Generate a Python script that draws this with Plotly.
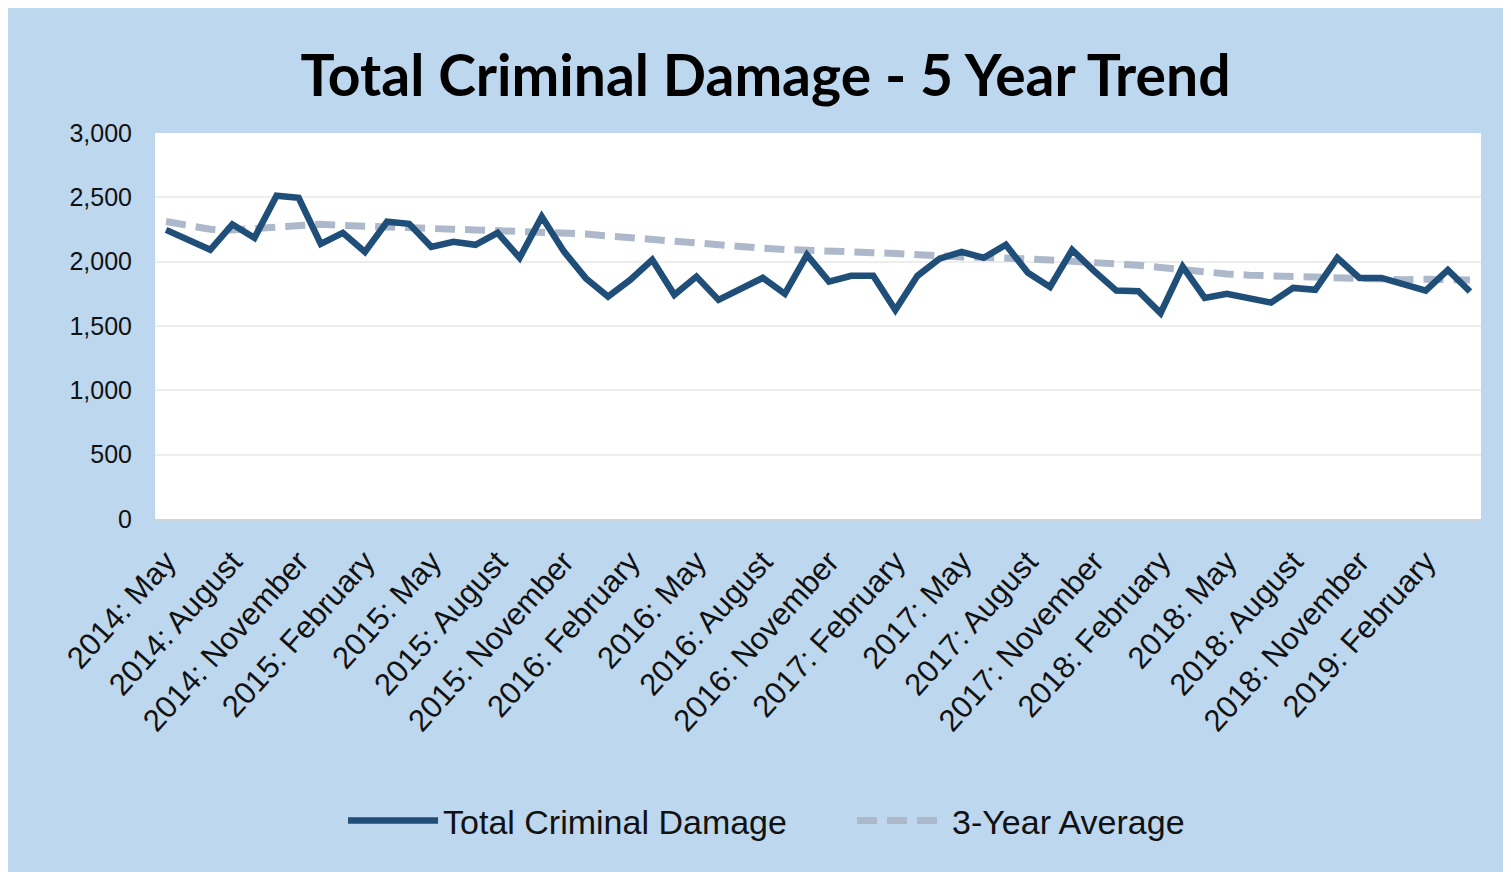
import plotly.graph_objects as go

years = [2014]*8 + [2015]*12 + [2016]*12 + [2017]*12 + [2018]*12 + [2019]*4
month_names = ["January", "February", "March", "April", "May", "June", "July",
               "August", "September", "October", "November", "December"]
start_month = 4  # May (index into month_names)
months = [month_names[(start_month + i) % 12] for i in range(60)]
categories = [f"{y}: {m}" for y, m in zip(years, months)]

total_damage = [2247, 2167, 2092, 2290, 2185, 2512, 2496, 2138, 2224, 2076,
                2310, 2294, 2115, 2154, 2131, 2224, 2030, 2350, 2080, 1870,
                1729, 1858, 2014, 1742, 1884, 1703, 1785, 1874, 1750, 2053,
                1845, 1890, 1890, 1625, 1890, 2024, 2076, 2030, 2131, 1913,
                1804, 2092, 1926, 1775, 1770, 1600, 1962, 1718, 1750, 1718,
                1682, 1796, 1781, 2030, 1874, 1874, 1820, 1775, 1936, 1768]

three_year_avg = [2312, 2278, 2252, 2247, 2260, 2278, 2291, 2291, 2281, 2273,
                  2268, 2262, 2257, 2252, 2247, 2242, 2234, 2229, 2221, 2215,
                  2200, 2185, 2172, 2160, 2145, 2123, 2113, 2105, 2095, 2092,
                  2085, 2077, 2070, 2063, 2050, 2042, 2036, 2034, 2034, 2022,
                  2013, 2005, 1993, 1985, 1972, 1955, 1936, 1920, 1905, 1895,
                  1890, 1882, 1870, 1862, 1858, 1858, 1860, 1864, 1864, 1858]

tick_labels = categories[::3]
y_ticks = [0, 500, 1000, 1500, 2000, 2500, 3000]

fig = go.Figure()
fig.add_trace(go.Scatter(
    x=categories, y=three_year_avg, mode="lines", name="3-Year Average",
    line=dict(color="#ADB9CA", width=7, dash="20px,10px"),
    legendrank=2,
))
fig.add_trace(go.Scatter(
    x=categories, y=total_damage, mode="lines", name="Total Criminal Damage",
    line=dict(color="#1F4E79", width=6.5),
    legendrank=1,
))

W, H = 1503, 864
fig.update_layout(
    width=W, height=H,
    paper_bgcolor="#BDD7EE",
    plot_bgcolor="#FFFFFF",
    margin=dict(l=147, r=30, t=125, b=353),
    title=dict(
        text="<b>Total Criminal Damage - 5 Year Trend</b>",
        x=0.504, xanchor="center", y=1 - 68 / H, yanchor="middle",
        font=dict(family="Lato, Carlito, sans-serif", size=57, color="#000000"),
    ),
    showlegend=True,
    legend=dict(
        orientation="h", x=0.1418, xanchor="left", y=-0.782, yanchor="middle",
        font=dict(family="Liberation Sans, Arial, sans-serif", size=34, color="#111111"),
        bgcolor="rgba(0,0,0,0)", itemwidth=90, traceorder="normal",
        entrywidth=404, entrywidthmode="pixels",
    ),
    xaxis=dict(
        type="category", categoryorder="array", categoryarray=categories,
        range=[-0.5, 59.5], tickvals=tick_labels, ticktext=tick_labels,
        tickangle=-48, showgrid=False, zeroline=False,
        showline=True, linecolor="#D0D6DE", linewidth=2,
        ticks="", ticklabelstandoff=10, automargin=False,
        tickfont=dict(family="Liberation Sans, Arial, sans-serif", size=31, color="#111111"),
    ),
    yaxis=dict(
        range=[0, 3000], tickvals=y_ticks, tickformat=",",
        showgrid=True, gridcolor="#EDEDED", gridwidth=2, zeroline=False,
        showline=False, ticks="", ticklabelstandoff=22, automargin=False,
        tickfont=dict(family="Liberation Sans, Arial, sans-serif", size=25, color="#111111"),
    ),
)

fig.write_html("out.html")
